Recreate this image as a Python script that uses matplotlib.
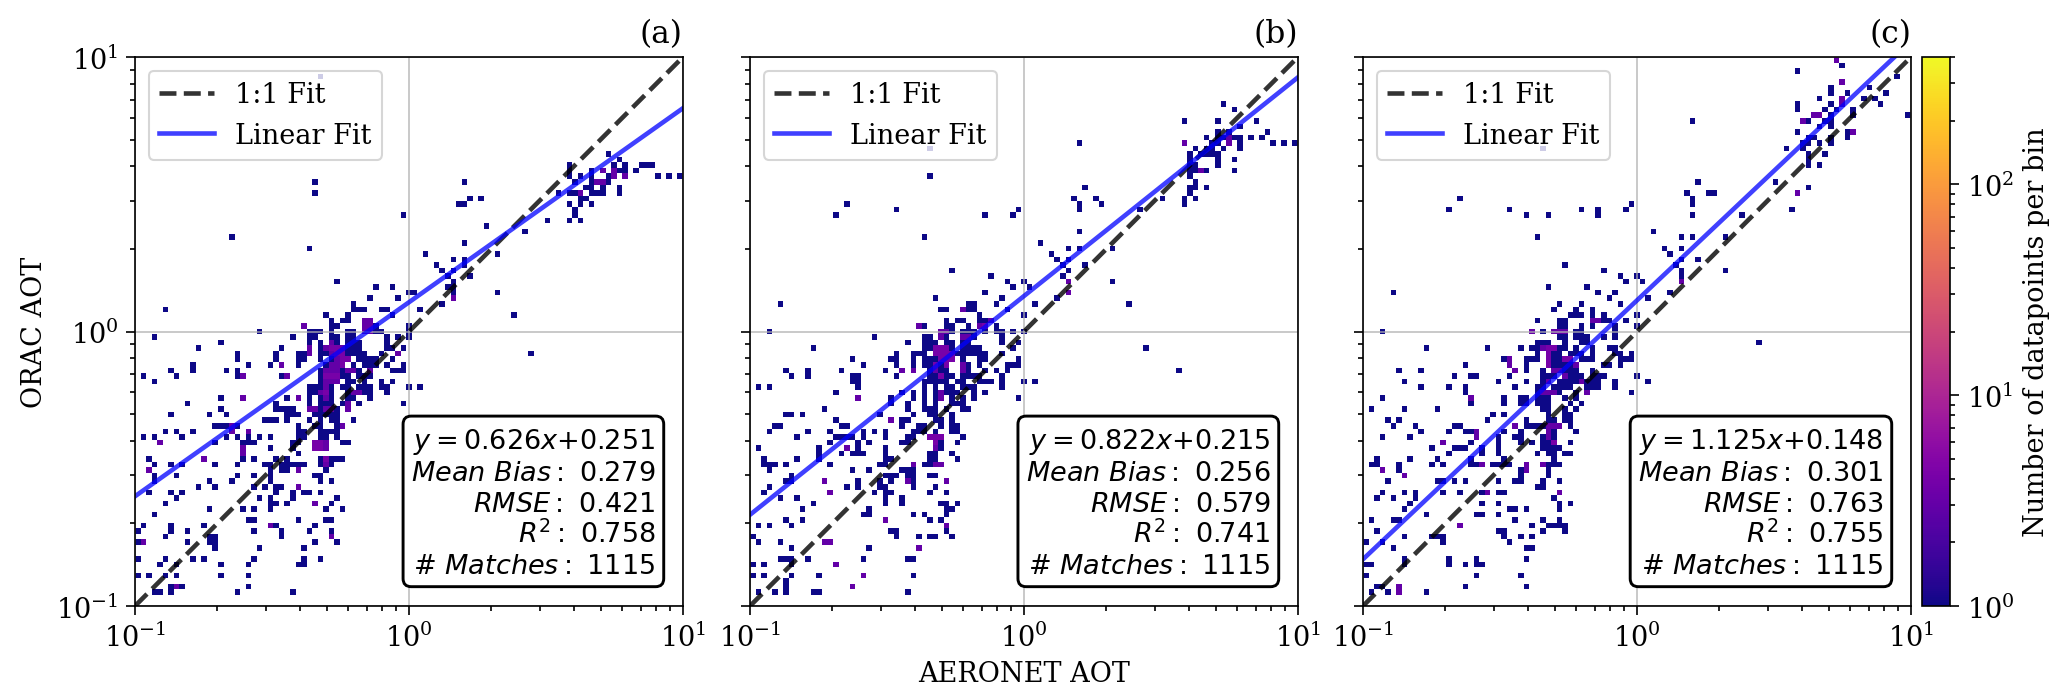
import numpy as np
import matplotlib
matplotlib.use("Agg")
import matplotlib.pyplot as plt
from matplotlib.colors import LogNorm

plt.rcParams['font.family'] = 'DejaVu Serif'
plt.rcParams['font.size'] = 13

# occupied histogram bins: ORAC bin counted from the top -> AERONET bins
a_cells = {
    3: [33], 17: [85], 18: [87], 19: [78, 86, 88, 91, 92, 93], 20: [78, 82, 84, 86, 87, 88, 90],
    21: [78, 80, 82, 85, 86, 88, 94, 96, 98], 22: [32, 59, 79, 82, 83, 84, 85], 23: [81, 82, 84, 87],
    24: [32, 76, 78, 79, 80, 82, 83, 84, 87], 25: [60, 62, 80, 81], 26: [58, 59, 78, 80, 82], 27: [79],
    28: [48, 79], 29: [74, 78, 80], 30: [63], 31: [70], 32: [17], 33: [59], 34: [31], 35: [52, 65],
    36: [57, 59], 37: [54, 59], 38: [55, 57], 39: [56, 60], 40: [36, 57], 41: [43, 46, 56, 57],
    42: [49, 50, 57, 65], 43: [42, 47, 57], 44: [39, 55], 45: [5, 39, 40, 41, 44, 45, 51],
    46: [34, 38, 46, 68], 47: [35, 37, 38, 41, 42], 48: [30, 35, 36, 41, 42, 43, 49],
    49: [22, 31, 32, 33, 35, 38, 39, 41, 42, 43, 44, 49], 50: [3, 28, 31, 32, 35, 36, 38, 39, 45, 47, 49],
    51: [15, 31, 33, 35, 36, 38, 39, 40, 45], 52: [11, 26, 31, 33, 34, 35, 36, 37, 38, 39, 40, 45, 46, 48],
    53: [18, 25, 29, 30, 31, 33, 34, 35, 36, 37, 38, 39, 40, 41, 44, 47, 71],
    54: [18, 25, 29, 30, 33, 35, 36, 37, 38, 40, 41, 42, 43, 46],
    55: [10, 20, 24, 26, 29, 34, 35, 36, 37, 39, 41, 42, 43, 45, 48],
    56: [6, 10, 16, 18, 33, 34, 35, 36, 37, 38, 39, 40, 42, 46, 47, 48],
    57: [1, 7, 18, 19, 26, 27, 33, 34, 35, 36, 37, 38, 40, 41, 42], 58: [3, 33, 34, 35, 36, 38, 39, 41, 44, 46],
    59: [31, 32, 33, 34, 35, 37, 38, 40, 41, 42, 44, 45, 49, 51], 60: [31, 32, 33, 34, 35, 38, 39, 40, 41, 42, 45],
    61: [15, 19, 27, 29, 31, 33, 34, 35, 38, 39, 42], 62: [9, 25, 31, 33, 34, 35, 37, 38, 40, 48],
    63: [15, 25, 26, 27, 28, 31, 32, 33, 34, 35, 36, 38], 64: [6, 13, 16, 27, 28, 29, 32, 33, 34, 35, 36],
    65: [23, 24, 25, 27, 31, 33, 35, 36, 39], 66: [14, 15, 16, 17, 18, 29, 32, 33, 36, 37],
    67: [5, 7, 10, 17, 20, 29, 30, 33, 34, 35, 36], 68: [1, 3, 8, 16, 18, 20, 22, 24, 29, 30, 33, 34, 36],
    69: [4, 14, 19, 20, 21, 28, 29, 32, 33, 34, 37, 38], 70: [19, 24, 28, 32, 33, 34], 71: [19, 29],
    72: [2, 12, 19, 21, 25, 27, 33, 34, 35, 36, 37], 73: [3, 6, 8, 14, 18, 23, 24, 26, 27, 28, 29, 30, 33, 34, 35],
    74: [2, 24, 26, 27, 29, 34], 75: [3, 7, 18, 21, 24, 32, 33], 76: [3, 13, 17, 24, 33, 35],
    77: [11, 14, 21, 23, 25, 26, 29], 78: [2, 6, 8, 25, 28, 30, 31, 33], 79: [7, 22, 24, 28, 36],
    80: [5, 24, 25, 27, 32, 35], 81: [13, 19, 21, 24, 34, 37], 82: [3], 83: [20, 21, 29, 34, 35],
    84: [1, 6, 12, 24, 25, 32], 85: [0, 6, 9, 21, 26, 31, 35], 86: [5, 13, 14, 26, 35],
    87: [0, 1, 9, 13, 14, 32, 36], 88: [14, 22, 30], 90: [0, 5, 10, 12, 21, 30, 33],
    91: [4, 7, 15, 20, 29, 30], 93: [0, 2, 5, 7, 15, 20], 95: [6, 7, 8, 20], 96: [3, 4, 6, 18, 28],
}
a_three = {
    20: [84, 86], 21: [86, 88], 22: [83, 84], 24: [80], 43: [57], 47: [41, 42], 48: [30, 41, 42], 49: [41, 42],
    51: [35], 52: [31, 34, 37], 53: [31, 35, 47], 54: [36], 55: [26, 35, 36], 56: [34, 35, 36, 38, 39, 42],
    57: [19, 27], 58: [34, 35, 36], 59: [34], 60: [33, 39, 40], 61: [19, 29, 34], 62: [38],
    63: [31, 32, 34, 35, 38], 66: [17, 37], 67: [17, 20], 69: [4, 34], 70: [19, 34], 71: [19], 72: [12],
    73: [34], 74: [2, 29], 77: [29], 80: [32], 84: [24], 86: [35], 87: [1], 95: [7],
}
a_four = {
    52: [35, 36], 53: [36, 37], 54: [37, 38], 55: [37], 57: [34, 35, 36], 60: [34], 69: [32, 33], 70: [32, 33], 72: [34],
}

b_cells = {
    8: [85], 9: [87], 11: [78, 84, 91], 12: [88], 13: [84, 86, 93], 14: [82, 84, 85, 86, 87, 88, 90, 92],
    15: [59, 78, 83, 84, 86, 88, 94, 96, 98], 16: [32, 80, 82, 83, 85, 88], 17: [79, 81, 82, 83, 84],
    18: [79, 84, 87], 19: [79, 80, 84], 20: [79, 80, 81, 82, 87], 21: [32, 79], 22: [80], 23: [60, 79, 80, 82],
    24: [79], 25: [58, 62, 74, 78, 80], 26: [17, 59, 63, 78], 27: [26, 48, 59, 70], 28: [15, 42, 47], 31: [59],
    32: [31], 33: [52], 34: [57, 59, 65], 35: [54], 36: [55, 57], 37: [56, 60], 38: [36, 57], 39: [43, 56],
    40: [46, 49, 57, 65], 41: [47, 50], 42: [42, 57], 43: [33, 45, 55], 44: [5, 39, 40, 44, 51, 68],
    45: [34, 35, 38, 39, 40, 46], 46: [41, 49], 47: [35, 37, 38, 41, 42, 43], 48: [30, 31, 35, 36, 39, 41, 42, 44],
    49: [3, 34, 35, 36, 38, 39, 40, 42, 44, 45, 47, 49], 50: [22, 31, 32, 34, 35, 38, 39, 40, 45],
    51: [28, 31, 32, 33, 35, 36, 38, 39, 45, 48], 52: [11, 31, 32, 33, 34, 35, 36, 38, 39, 40, 41, 47, 71],
    53: [26, 29, 30, 31, 33, 34, 35, 36, 37, 38, 39, 40, 41, 42, 45],
    54: [18, 25, 26, 29, 31, 32, 33, 34, 35, 36, 38, 41, 42, 48],
    55: [20, 26, 29, 31, 32, 33, 34, 35, 38, 39, 41, 46, 47, 48],
    56: [6, 10, 16, 24, 27, 29, 32, 33, 34, 35, 38, 39, 42, 44, 46, 77],
    57: [7, 10, 18, 19, 26, 32, 33, 34, 35, 36, 38, 39, 40, 41, 45],
    58: [18, 19, 31, 32, 33, 34, 35, 37, 38, 41, 42, 43, 45, 49, 51],
    59: [1, 3, 19, 31, 33, 35, 36, 38, 39, 40, 45], 60: [15, 27, 29, 31, 33, 34, 35, 36, 37, 40, 42],
    61: [19, 25, 29, 31, 33, 34, 36, 38, 40, 48], 62: [25, 28, 31, 33, 36, 37, 38], 63: [13, 28, 31, 32, 33, 35, 38, 39],
    64: [6, 7, 9, 23, 29, 32, 33, 36], 65: [15, 25, 27, 28, 33, 34, 36], 66: [4, 5, 16, 17, 27, 30, 31, 34, 36, 37],
    67: [3, 10, 14, 20, 22, 24, 29, 30, 31, 33, 36, 37], 68: [8, 15, 16, 17, 18, 20, 24, 28, 29, 32, 33, 34, 38],
    69: [14, 19, 21, 27, 28, 33, 34, 37], 70: [1, 12, 17, 19, 24, 33, 34], 71: [12, 16, 18, 19, 20, 24, 32, 33, 36],
    72: [2, 8, 12, 24, 25, 32, 33, 37], 73: [2, 3, 4, 6, 14, 23, 24, 29, 31, 32, 33, 34], 74: [3, 18, 21, 27, 28, 29],
    75: [7, 24, 25, 26, 28, 29, 32, 33], 76: [6, 7, 13, 19, 23, 25, 28, 29, 35], 77: [3, 17, 19, 23, 24, 29, 33],
    78: [2, 14, 22, 24, 25, 32, 35], 79: [5, 8, 24, 27], 80: [11, 24, 27, 34, 35, 37], 81: [9, 21, 35, 36],
    82: [20, 21, 29, 31, 35], 83: [6, 9, 24, 32, 34], 84: [1, 3, 7, 35], 85: [25, 26, 35], 86: [0, 26, 30, 32, 33, 36],
    87: [1, 5, 13, 14], 88: [7, 21, 30], 90: [5, 6, 7, 10, 20, 28, 29], 91: [0, 2, 7, 15], 93: [0, 2, 7, 12, 20, 29],
    94: [6], 95: [6, 18], 96: [1, 4, 6, 11, 12, 28],
}
b_three = {
    14: [86], 15: [78, 86], 20: [81], 40: [57], 42: [57], 45: [38], 47: [43], 48: [30, 41], 49: [34, 35],
    50: [34, 38, 39], 55: [38], 56: [27, 29, 33, 38], 60: [34], 61: [19, 34], 65: [25], 70: [17, 33],
    73: [29, 33, 34], 76: [13, 28, 35], 78: [14], 83: [24], 84: [35], 87: [13, 14], 88: [30], 91: [15], 93: [20], 95: [18],
}
b_four = {
    48: [42], 52: [33, 34, 35], 53: [33, 34, 35, 36], 54: [34, 35, 36], 55: [33, 35], 57: [34], 68: [32, 33, 34], 69: [33],
}

c_cells = {
    0: [85], 1: [86], 2: [78], 3: [96], 4: [86], 5: [84, 91], 6: [84, 87, 94], 7: [82, 86, 90, 92],
    8: [78, 84, 86, 93], 9: [78, 83, 85, 88], 10: [81, 82, 84, 88, 98], 11: [59, 79, 80, 83, 84], 12: [82, 84],
    13: [78, 87, 88], 14: [80, 81, 84, 87], 15: [79, 80, 82, 84], 16: [32, 76, 79], 17: [80, 83], 18: [80],
    19: [80, 82], 22: [60, 74], 23: [80], 24: [58, 62, 63, 78], 25: [17, 59], 26: [48, 59],
    27: [15, 26, 39, 42, 47, 77], 28: [29, 33, 42, 59, 68], 31: [52], 32: [31, 57, 59, 65], 34: [54, 57], 35: [55],
    36: [57, 60], 37: [36, 56], 38: [43, 57, 65], 39: [46, 49, 57], 40: [47, 50, 57], 41: [33, 40],
    42: [5, 42, 45, 55], 43: [44, 51], 44: [35, 39, 46], 45: [34, 38, 41], 46: [37, 38, 39, 41, 43, 49],
    47: [31, 35, 36, 41, 42, 43, 44, 47], 48: [35, 36, 39, 41, 45, 49], 49: [3, 30, 32, 34, 35, 36, 38, 39, 45],
    50: [35, 36, 38, 39, 40, 43, 45], 51: [31, 32, 33, 36, 39, 40, 71],
    52: [11, 22, 28, 30, 31, 32, 33, 34, 35, 36, 38, 41, 44, 45], 53: [31, 33, 34, 35, 37, 38, 39, 41, 45, 46, 48],
    54: [25, 26, 29, 30, 31, 33, 34, 35, 36, 37, 39, 40, 41, 46, 47, 48],
    55: [18, 26, 29, 33, 34, 35, 36, 37, 38, 43, 44, 46], 56: [6, 10, 27, 29, 32, 34, 35, 36, 37, 38, 41],
    57: [16, 19, 20, 26, 32, 33, 34, 36, 37, 38, 39, 41, 42, 43, 49],
    58: [7, 24, 29, 32, 33, 35, 36, 37, 38, 39, 40, 41, 42, 45, 51], 59: [10, 15, 18, 27, 31, 32, 34, 35, 36, 37, 40, 41, 42, 45],
    60: [18, 31, 32, 33, 34, 35, 38, 40, 48], 61: [3, 19, 25, 28, 29, 31, 32, 33, 36, 38],
    62: [19, 25, 28, 29, 31, 32, 33, 37, 39], 63: [1, 7, 13, 32, 33, 36, 38], 64: [23, 25, 33, 36, 37],
    65: [4, 6, 22, 29, 33, 34, 36, 37], 66: [5, 9, 16, 17, 27, 29, 30, 31, 32, 33, 34, 35, 37],
    67: [10, 15, 18, 19, 20, 25, 28, 33, 34, 38], 68: [3, 8, 20, 24, 27, 28, 32, 33, 34],
    69: [14, 19, 24, 28, 30, 32, 33, 34, 37], 70: [12, 16, 17, 18, 21, 24, 32, 33, 34, 35],
    71: [15, 21, 24, 31, 33, 34, 36, 37], 72: [2, 8, 13, 19, 25, 34],
    73: [1, 2, 6, 12, 14, 19, 20, 21, 23, 24, 25, 26, 29, 32, 33, 34, 35], 74: [3, 6, 28, 29, 33], 75: [7, 28, 33],
    76: [4, 13, 14, 16, 18, 24, 27, 28, 32, 35], 77: [31, 32], 78: [3, 7, 9, 14, 17, 21, 22, 24, 25, 35],
    79: [2, 5, 9, 34], 80: [8, 21, 24, 35, 37], 81: [7, 26, 27, 29, 35], 82: [11, 20, 21, 24], 83: [1, 5, 6, 27, 32, 35],
    84: [17, 30, 33, 34, 35, 36], 85: [2, 24, 25, 32, 36], 86: [7, 12, 13, 14, 25, 28, 30], 87: [0, 3, 14, 26],
    88: [5, 29, 30], 90: [7, 15, 20, 29], 91: [0, 1, 7, 15, 18, 20, 21], 93: [0, 20, 28], 95: [2, 3, 6, 18, 29],
    96: [1, 4, 6, 11],
}
c_three = {
    0: [85], 4: [86], 7: [86], 8: [86], 10: [81, 82], 11: [79], 13: [88], 24: [78], 40: [57], 47: [41, 42],
    49: [30, 34, 35, 36], 52: [32], 54: [26], 55: [26, 38], 56: [27, 34, 35], 57: [36], 58: [33, 39],
    60: [32, 33, 34, 40], 61: [19], 66: [27, 33, 34, 35], 67: [20, 33], 68: [20, 33], 69: [14], 73: [21, 29, 32],
    74: [3, 29], 75: [7], 78: [22, 35], 84: [17], 95: [6], 96: [6],
}
c_four = {
    52: [33, 34], 53: [33], 54: [33, 36, 37], 55: [33], 69: [34],
}

# fit parameters printed in each panel
slopes = [0.626, 0.822, 1.125]
intercepts = [0.251, 0.215, 0.148]
mean_bias = [0.279, 0.256, 0.301]
rmse = [0.421, 0.579, 0.763]
r_squared = [0.758, 0.741, 0.755]
matches = [1115, 1115, 1115]
panel_labels = ['(a)', '(b)', '(c)']

edges = np.logspace(-1, 1, 100)
centres = np.sqrt(edges[:-1] * edges[1:])
norm = LogNorm(vmin=1, vmax=400)


def cell_points(cells, three, four):
    xs, ys, counts = [], [], []
    for row, cols in cells.items():
        for col in cols:
            n = 1
            if col in three.get(row, []):
                n = 3
            if col in four.get(row, []):
                n = 4
            xs.append(centres[col])
            ys.append(centres[98 - row])
            counts.append(n)
    return xs, ys, counts


W, H = 2067, 701
fig = plt.figure(figsize=(W / 150, H / 150), dpi=150)
lefts = [135, 750, 1363]
panels = [(a_cells, a_three, a_four), (b_cells, b_three, b_four), (c_cells, c_three, c_four)]
for i, (cells, three, four) in enumerate(panels):
    ax = fig.add_axes([lefts[i] / W, 1 - 607 / H, 548 / W, 549 / H])
    xs, ys, counts = cell_points(cells, three, four)
    h = ax.hist2d(xs, ys, bins=[edges, edges], weights=counts, cmap='plasma', norm=norm, cmin=1)
    ax.set_xscale('log')
    ax.set_yscale('log')
    ax.set_xlim(0.1, 10)
    ax.set_ylim(0.1, 10)
    ax.grid(True, which='major', alpha=0.8)

    ax.plot([0.1, 10], [0.1, 10], color='k', ls='--', lw=2.2, alpha=0.8, label='1:1 Fit')
    fit_y = [intercepts[i], slopes[i] * 10 + intercepts[i]]
    ax.plot([0.1, 10], fit_y, color='b', lw=2.2, alpha=0.75, label='Linear Fit')
    ax.legend(loc='upper left', fontsize=13)

    ax.tick_params(which='major', length=4.5, width=0.8)
    ax.tick_params(which='minor', length=2.6, width=0.8)
    if i > 0:
        ax.set_yticklabels([])
    ax.set_title(panel_labels[i], loc='right', fontsize=15, pad=7)

    note = (f"$y = {slopes[i]:.3f}x{{+}}{intercepts[i]:.3f}$\n"
            f"$Mean\\ Bias:\\ {mean_bias[i]:.3f}$\n"
            f"$RMSE:\\ {rmse[i]:.3f}$\n"
            f"$R^2{{:}}\\ {r_squared[i]:.3f}$\n"
            f"$\\#\\ Matches:\\ {matches[i]}$")
    ax.text(0.950, 0.050, note, transform=ax.transAxes, ha='right', va='bottom', multialignment='right',
            fontsize=13, zorder=6, linespacing=1.15,
            bbox=dict(boxstyle='round,pad=0.3', facecolor='white', edgecolor='k', linewidth=1.4))
    if i == 0:
        ax.set_ylabel('ORAC AOT', fontsize=13)
    if i == 1:
        ax.set_xlabel('AERONET AOT', fontsize=13)

cax = fig.add_axes([1922 / W, 1 - 607 / H, 28 / W, 549 / H])
cbar = fig.colorbar(h[3], cax=cax)
cbar.set_label('Number of datapoints per bin', fontsize=13)
cbar.ax.tick_params(which='major', length=4.5, width=0.8)
cbar.ax.tick_params(which='minor', length=2.6, width=0.8)

fig.savefig('out.png', dpi=150)
